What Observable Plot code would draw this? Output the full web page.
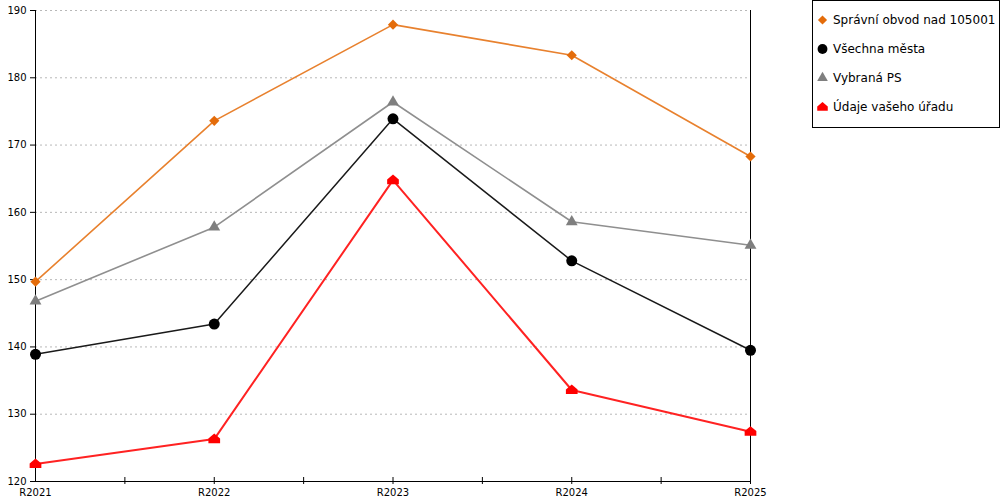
<!DOCTYPE html>
<html>
<head>
<meta charset="utf-8">
<script src="https://cdn.jsdelivr.net/npm/d3@7"></script>
<script src="https://cdn.jsdelivr.net/npm/@observablehq/plot@0.6"></script>
<style>
  html, body { margin: 0; padding: 0; background: #fff; }
  #wrap { position: relative; width: 1000px; height: 500px; font-family: "DejaVu Sans", Verdana, sans-serif; }
  #legend { position: absolute; left: 812px; top: 0px; width: 186px; height: 126px; border: 1px solid #000; background: #fff; }
  .row { position: absolute; left: 0; height: 16px; display: flex; align-items: center; font-size: 12px; color: #000; white-space: nowrap; }
  .row svg { margin-left: 3px; margin-right: 4px; }
</style>
</head>
<body>
<div id="wrap"><div id="chart"></div><div id="legend"></div></div>
<script>
const categories = ["R2021", "R2022", "R2023", "R2024", "R2025"];
const seriesNames = ["Správní obvod nad 105001", "Všechna města", "Vybraná PS", "Údaje vašeho úřadu"];
const spravniObvod = [149.7, 173.6, 187.9, 183.35, 168.3];
const vsechnaMesta = [138.9, 143.4, 173.9, 152.8, 139.5];
const vybranaPS = [146.8, 157.8, 176.4, 158.6, 155.1];
const udajeUradu = [122.6, 126.3, 164.8, 133.6, 127.4];
const yTicks = [120, 130, 140, 150, 160, 170, 180, 190];

const house = {
  draw(ctx, size) {
    const s = Math.sqrt(size) * 0.66;
    ctx.moveTo(0, -s * 0.95);
    ctx.lineTo(s, -s * 0.1);
    ctx.lineTo(s, s * 0.7);
    ctx.lineTo(-s, s * 0.7);
    ctx.lineTo(-s, -s * 0.1);
    ctx.closePath();
  }
};

const series = [
  {name: seriesNames[0], values: spravniObvod, line: "#e8812e", mark: "#e46c0a", symbol: "diamond2", r: 4.6, sw: 1.6},
  {name: seriesNames[2], values: vybranaPS, line: "#8f8f8f", mark: "#7f7f7f", symbol: "triangle", r: 4.4, sw: 1.6},
  {name: seriesNames[1], values: vsechnaMesta, line: "#1a1a1a", mark: "#000000", symbol: "circle", r: 5.5, sw: 1.5},
  {name: seriesNames[3], values: udajeUradu, line: "#ff2222", mark: "#ff0000", symbol: house, r: 5, sw: 2}
];

const rows = series.flatMap(s => s.values.map((v, i) => ({series: s.name, i, value: v})));
const xIdx = d3.range(categories.length);
const xMinor = d3.range(0.5, categories.length - 1, 1);
const yBase = yTicks[0];

const marks = [
  Plot.gridY(yTicks.slice(1), {stroke: "#b8b8b8", strokeOpacity: 1, strokeDasharray: "2,3", strokeWidth: 1, insetRight: 2}),
  Plot.ruleX([0, categories.length - 1], {stroke: "#000", strokeWidth: 1}),
  Plot.ruleY([yBase], {stroke: "#000", strokeWidth: 1}),
  Plot.ruleX(xIdx.slice(1).concat(xMinor), {x: d => d, y1: () => yBase, y2: () => yBase, insetTop: -4, insetBottom: -3, stroke: "#000"}),
  Plot.axisY({ticks: yTicks, tickSize: 5, tickPadding: 4, fontSize: 10, label: null}),
  Plot.axisX({ticks: xIdx, tickFormat: i => categories[i], tickSize: 0, tickPadding: 7, fontSize: 10, label: null})
];
for (const s of series) {
  const d = rows.filter(r => r.series === s.name);
  marks.push(Plot.line(d, {x: "i", y: "value", stroke: s.line, strokeWidth: s.sw}));
}
for (const s of series) {
  const d = rows.filter(r => r.series === s.name);
  marks.push(Plot.dot(d, {x: "i", y: "value", fill: s.mark, stroke: "none", symbol: s.symbol, r: s.r}));
}

const chart = Plot.plot({
  width: 1000,
  height: 500,
  marginLeft: 35,
  marginRight: 250,
  marginTop: 10,
  marginBottom: 19,
  style: {fontFamily: "DejaVu Sans, Verdana, sans-serif", fontSize: "10px", color: "#000", background: "#fff"},
  x: {type: "linear", domain: [0, categories.length - 1], axis: null, label: null},
  y: {domain: [yTicks[0], yTicks[yTicks.length - 1]], axis: null, label: null},
  marks
});
document.getElementById("chart").appendChild(chart);

// Legend
const legendOrder = [series[0], series[2], series[1], series[3]];
const legendTops = [11, 40, 69, 98];
const legend = document.getElementById("legend");
legendOrder.forEach((s, k) => {
  const row = document.createElement("div");
  row.className = "row";
  row.style.top = legendTops[k] + "px";
  const svg = d3.create("svg").attr("width", 13).attr("height", 16);
  const sym = typeof s.symbol === "string" ? {diamond2: d3.symbolDiamond2, triangle: d3.symbolTriangle, circle: d3.symbolCircle}[s.symbol] : s.symbol;
  const rr = s.r * 0.9;
  svg.append("path").attr("transform", "translate(6.5,8)").attr("fill", s.mark)
    .attr("d", d3.symbol(sym, Math.PI * rr * rr)());
  row.appendChild(svg.node());
  const t = document.createElement("span");
  t.textContent = s.name;
  row.appendChild(t);
  legend.appendChild(row);
});
</script>
</body>
</html>
